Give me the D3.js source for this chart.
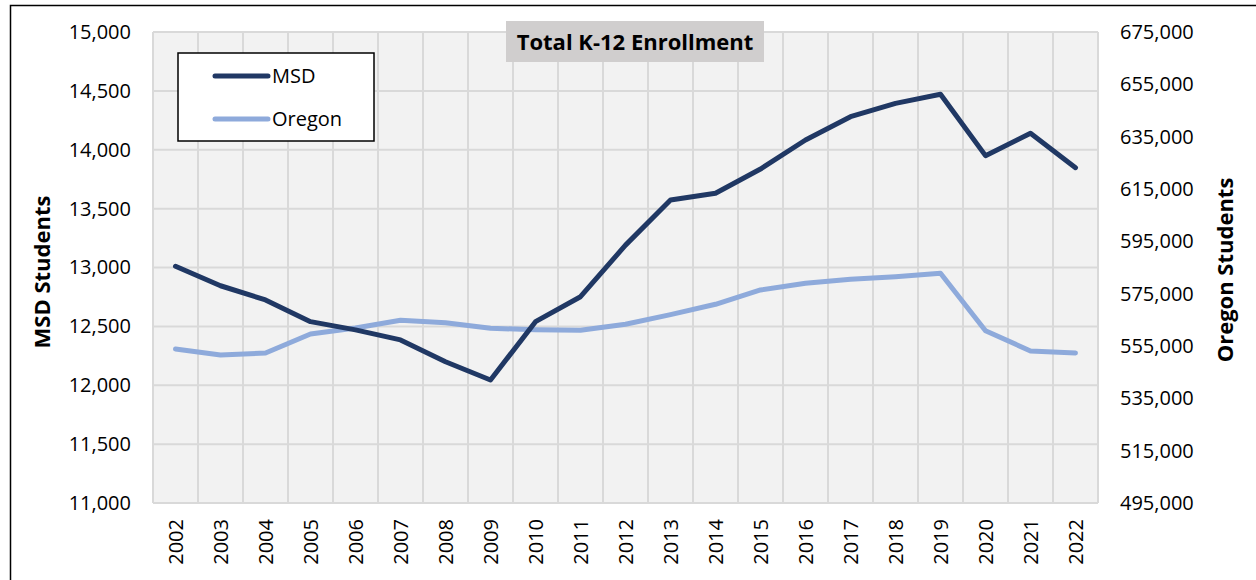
<html>
<head>
  <script src="https://d3js.org/d3.v7.min.js"></script>
  <style>
    body { margin: 0; background: #fff; }
    text { font-family: "Open Sans", sans-serif; fill: #000; }
  </style>
</head>
<body>
  <script>
    let years = ["2002","2003","2004","2005","2006","2007","2008","2009","2010","2011",
                 "2012","2013","2014","2015","2016","2017","2018","2019","2020","2021","2022"];
    let msd = [13010, 12845, 12725, 12540, 12470, 12385, 12200, 12045, 12540, 12752,
               13190, 13573, 13630, 13836, 14083, 14281, 14394, 14471, 13950, 14140, 13848];
    let oregon = [553860, 551570, 552330, 559590, 561890, 564830, 563910, 561770, 561240, 561010,
                  563300, 566970, 570940, 576410, 578970, 580500, 581490, 582790, 560850, 553090, 552330];
    let leftTicks = d3.range(11000, 15001, 500);
    let rightTicks = d3.range(495000, 675001, 20000);

    let width = 1256;
    let height = 580;
    let plotL = 153, plotR = 1098, plotT = 32, plotB = 503;

    let svg = d3.select("body")
      .append("svg")
      .attr("width", width)
      .attr("height", height);

    // outer frame (right/bottom edges fall outside the picture)
    svg.append("rect")
      .attr("x", 10.5).attr("y", 5.5)
      .attr("width", 1400).attr("height", 700)
      .attr("fill", "none")
      .attr("stroke", "#000")
      .attr("stroke-width", 1.5);

    let x = d3.scaleBand().domain(years).range([plotL, plotR]);
    let yLeft = d3.scaleLinear().domain([11000, 15000]).range([plotB, plotT]);
    let yRight = d3.scaleLinear().domain([495000, 675000]).range([plotB, plotT]);

    svg.append("rect")
      .attr("x", plotL).attr("y", plotT)
      .attr("width", plotR - plotL).attr("height", plotB - plotT)
      .attr("fill", "#f2f2f2");

    // gridlines
    let grid = svg.append("g").attr("stroke", "#d9d9d9").attr("stroke-width", 2);
    grid.selectAll(".h")
      .data(leftTicks)
      .enter()
      .append("line")
      .attr("x1", plotL).attr("x2", plotR)
      .attr("y1", d => yLeft(d)).attr("y2", d => yLeft(d));
    grid.selectAll(".v")
      .data(years.map(d => x(d)).concat([plotR]))
      .enter()
      .append("line")
      .attr("x1", d => d).attr("x2", d => d)
      .attr("y1", plotT).attr("y2", plotB);

    // axes
    let fmt = d3.format(",");
    let leftAxis = svg.append("g")
      .attr("transform", "translate(" + (plotL - 22) + ",0)")
      .call(d3.axisLeft(yLeft).tickValues(leftTicks).tickFormat(fmt).tickSize(0));
    let rightAxis = svg.append("g")
      .attr("transform", "translate(" + (plotR + 22) + ",0)")
      .call(d3.axisRight(yRight).tickValues(rightTicks).tickFormat(fmt).tickSize(0));
    let bottomAxis = svg.append("g")
      .attr("transform", "translate(0," + plotB + ")")
      .call(d3.axisBottom(x).tickSize(0));
    bottomAxis.selectAll("text")
      .attr("transform", "rotate(-90)")
      .attr("text-anchor", "end")
      .attr("x", -16)
      .attr("y", 0)
      .attr("dy", "0.35em");
    [leftAxis, rightAxis, bottomAxis].forEach(function(a) {
      a.select(".domain").remove();
      a.selectAll("text")
        .style("font-family", "'Open Sans', sans-serif")
        .style("font-size", "20px")
        .attr("fill", "#000");
    });
    leftAxis.selectAll("text").attr("x", 0);
    rightAxis.selectAll("text").attr("x", 0);

    // axis titles
    svg.append("text")
      .attr("transform", "translate(50," + 272 + ") rotate(-90)")
      .attr("text-anchor", "middle")
      .style("font-size", "22px").style("font-weight", "bold")
      .text("MSD Students");
    svg.append("text")
      .attr("transform", "translate(1233," + 270 + ") rotate(-90)")
      .attr("text-anchor", "middle")
      .style("font-size", "22px").style("font-weight", "bold")
      .text("Oregon Students");

    // lines
    let cx = d => x(d) + x.bandwidth() / 2;
    let msdLine = d3.line().x((d, i) => cx(years[i])).y(d => yLeft(d));
    let orLine = d3.line().x((d, i) => cx(years[i])).y(d => yRight(d));

    svg.append("path")
      .datum(oregon)
      .attr("fill", "none")
      .attr("stroke", "#8eaadb")
      .attr("stroke-width", 5)
      .attr("stroke-linejoin", "round")
      .attr("stroke-linecap", "round")
      .attr("d", orLine);
    svg.append("path")
      .datum(msd)
      .attr("fill", "none")
      .attr("stroke", "#203864")
      .attr("stroke-width", 5)
      .attr("stroke-linejoin", "round")
      .attr("stroke-linecap", "round")
      .attr("d", msdLine);

    // title
    svg.append("rect")
      .attr("x", 506).attr("y", 21)
      .attr("width", 258).attr("height", 41)
      .attr("fill", "#d0cece");
    svg.append("text")
      .attr("x", 635).attr("y", 50)
      .attr("text-anchor", "middle")
      .style("font-size", "22px").style("font-weight", "bold")
      .text("Total K-12 Enrollment");

    // legend
    let legend = svg.append("g");
    legend.append("rect")
      .attr("x", 178).attr("y", 53)
      .attr("width", 196).attr("height", 88)
      .attr("fill", "#fff")
      .attr("stroke", "#000")
      .attr("stroke-width", 1.5);
    let items = [{name: "MSD", color: "#203864", y: 76}, {name: "Oregon", color: "#8eaadb", y: 119}];
    items.forEach(function(it) {
      legend.append("line")
        .attr("x1", 215).attr("x2", 268)
        .attr("y1", it.y).attr("y2", it.y)
        .attr("stroke", it.color)
        .attr("stroke-width", 5)
        .attr("stroke-linecap", "round");
      legend.append("text")
        .attr("x", 272).attr("y", it.y)
        .attr("dy", "0.35em")
        .style("font-size", "20px")
        .text(it.name);
    });
  </script>
</body>
</html>
